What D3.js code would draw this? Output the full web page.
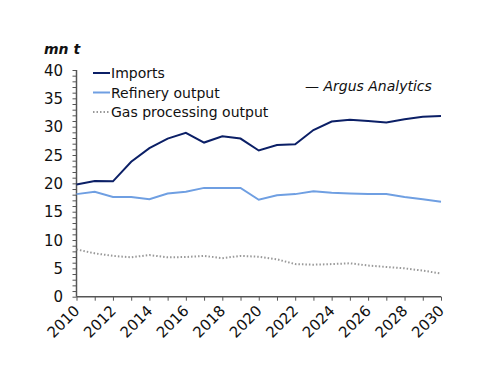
<!DOCTYPE html>
<html>
<head>
<meta charset="utf-8">
<script src="https://cdn.jsdelivr.net/npm/d3@7"></script>
<style>
  body { margin: 0; background: #fff; }
  svg text { font-family: "DejaVu Sans", sans-serif; fill: #111; }
</style>
</head>
<body>
<svg id="chart" width="500" height="386"></svg>
<script>
// Data -----------------------------------------------------------------------------
var years = d3.range(2010, 2031);
var imports = [19.8, 20.4, 20.35, 23.8, 26.2, 27.9, 28.9, 27.2, 28.3, 27.9, 25.8,
               26.75, 26.9, 29.4, 30.9, 31.2, 31.0, 30.75, 31.3, 31.75, 31.9];
var refinery = [18.1, 18.5, 17.6, 17.6, 17.2, 18.2, 18.5, 19.2, 19.2, 19.2, 17.1,
                17.9, 18.1, 18.6, 18.35, 18.2, 18.1, 18.1, 17.6, 17.2, 16.75];
var gasProcessing = [8.35, 7.65, 7.2, 6.95, 7.35, 6.95, 7.0, 7.2, 6.8, 7.2, 7.05,
                     6.6, 5.75, 5.65, 5.75, 5.9, 5.5, 5.25, 5.0, 4.6, 4.1];
var yTicks = [0, 5, 10, 15, 20, 25, 30, 35, 40];
var xTicks = [2010, 2012, 2014, 2016, 2018, 2020, 2022, 2024, 2026, 2028, 2030];

var seriesList = [
    { name: "Imports", values: imports, color: "#0b1f66", dash: null, width: 2 },
    { name: "Refinery output", values: refinery, color: "#6f9fe2", dash: null, width: 2 },
    { name: "Gas processing output", values: gasProcessing, color: "#999999", dash: "1.5,2", width: 2 }
];

// Main -----------------------------------------------------------------------------
var svg = d3.select("#chart");
var plotLeft = 76.5, plotRight = 441, plotTop = 70, plotBottom = 296.7;

var x = d3.scaleLinear().domain([2010, 2030]).range([plotLeft, plotRight]);
var y = d3.scaleLinear().domain([0, 40]).range([plotBottom, plotTop]);

// y axis: minor ticks every 1
var yAxis = svg.append("g").attr("transform", "translate(" + plotLeft + ",0)");
yAxis.call(d3.axisLeft(y).tickValues(d3.range(0, 41, 1)).tickSize(4).tickFormat(""));
yAxis.select(".domain").remove();
yAxis.selectAll("line").attr("stroke", "#555");
svg.append("g").selectAll("text")
    .data(yTicks)
    .enter()
    .append("text")
    .attr("x", 63)
    .attr("y", function (d) { return y(d) + 5.5; })
    .attr("text-anchor", "end")
    .style("font-size", "15px")
    .text(function (d) { return d; });

// x axis: tick every year
var xAxis = svg.append("g").attr("transform", "translate(0," + plotBottom + ")");
xAxis.call(d3.axisBottom(x).tickValues(years).tickSize(4).tickFormat(""));
xAxis.select(".domain").remove();
xAxis.selectAll("line").attr("stroke", "#555");
svg.append("g").selectAll("text")
    .data(xTicks)
    .enter()
    .append("text")
    .attr("transform", function (d) {
        return "translate(" + (x(d) + 4) + "," + (plotBottom + 15) + ") rotate(-45)";
    })
    .attr("text-anchor", "end")
    .style("font-size", "15px")
    .text(function (d) { return d; });

// axis lines
svg.append("line")
    .attr("x1", plotLeft).attr("x2", plotLeft)
    .attr("y1", y(40)).attr("y2", plotBottom)
    .attr("stroke", "#555").attr("stroke-width", 1.5);
svg.append("line")
    .attr("x1", plotLeft).attr("x2", plotRight)
    .attr("y1", plotBottom).attr("y2", plotBottom)
    .attr("stroke", "#555").attr("stroke-width", 1.5);

// lines
var line = d3.line()
    .x(function (d, i) { return x(years[i]); })
    .y(function (d) { return y(d); });

svg.append("g").selectAll("path")
    .data(seriesList)
    .enter()
    .append("path")
    .attr("d", function (d) { return line(d.values); })
    .attr("fill", "none")
    .attr("stroke", function (d) { return d.color; })
    .attr("stroke-width", function (d) { return d.width; })
    .attr("stroke-dasharray", function (d) { return d.dash; });

// legend
var legend = svg.append("g").selectAll("g")
    .data(seriesList)
    .enter()
    .append("g")
    .attr("transform", function (d, i) { return "translate(93," + (73 + i * 19.5) + ")"; });
legend.append("line")
    .attr("x1", 0).attr("x2", 17)
    .attr("stroke", function (d) { return d.color; })
    .attr("stroke-width", function (d) { return d.width; })
    .attr("stroke-dasharray", function (d) { return d.dash; });
legend.append("text")
    .attr("x", 18)
    .attr("y", 5)
    .style("font-size", "14px")
    .text(function (d) { return d.name; });

// titles
svg.append("text")
    .attr("x", 44).attr("y", 54)
    .style("font-size", "14px")
    .style("font-style", "italic")
    .style("font-weight", "bold")
    .text("mn t");
svg.append("text")
    .attr("x", 305).attr("y", 91)
    .style("font-size", "14px")
    .style("font-style", "italic")
    .text("\u2014 Argus Analytics");
</script>
</body>
</html>
